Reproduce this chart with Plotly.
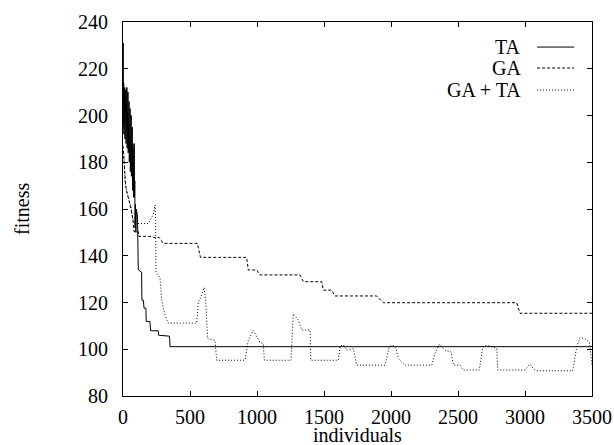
import plotly.graph_objects as go

# ---- data ----
ta_x = [0, 1, 3, 5, 7, 9, 11, 13, 15, 17, 19, 21, 23, 25, 27, 29, 31, 33, 35, 37, 39,
        41, 43, 45, 47, 49, 51, 53, 55, 57, 59, 61, 63, 65, 67, 69, 71, 73, 75, 77, 79,
        81, 84, 86, 88, 90, 93, 96, 100, 108, 114, 139, 141, 152, 157, 171, 173, 201,
        206, 263, 266, 347, 351, 3500]
ta_y = [200, 231, 195, 214, 192, 210, 199, 212, 190, 207, 196, 211, 188, 205, 193, 212,
        186, 203, 191, 210, 184, 200, 188, 206, 180, 198, 185, 203, 176, 196, 182, 200,
        174, 193, 178, 195, 168, 188, 172, 185, 165, 178, 188, 165, 172, 152, 162, 150,
        160, 157, 134, 133, 121, 121, 117.6, 117.6, 111.9, 111.9, 107.9, 107.9, 106,
        105.6, 101.1, 101.1]

ga_x = [0, 5, 10, 20, 30, 45, 60, 75, 82, 114, 118, 220, 228, 270, 300, 555, 578, 923,
        935, 998, 1022, 1321, 1346, 1483, 1495, 1557, 1582, 1893, 1943, 2938, 2963, 3500]
ga_y = [187, 182, 178, 170, 167, 164, 160, 155, 150.3, 150.3, 148.3, 148.3, 147.8,
        147.8, 145.3, 145.3, 139.3, 139.3, 133.9, 133.9, 131.8, 131.8, 128.9, 128.9,
        125.3, 125.3, 122.8, 122.8, 119.9, 119.9, 115.4, 115.4]

gata_x = [0, 8, 15, 25, 40, 55, 70, 80, 90, 189, 226, 239, 243, 246, 276, 289, 313, 338,
          550, 562, 580, 604, 617, 632, 687, 699, 910, 935, 973, 1022, 1047, 1055, 1254,
          1271, 1308, 1334, 1396, 1401, 1607, 1620, 1644, 1669, 1719, 1744, 1955, 1987,
          2013, 2037, 2055, 2105, 2304, 2328, 2361, 2403, 2448, 2465, 2515, 2540, 2659,
          2685, 2714, 2764, 2789, 2796, 3000, 3037, 3062, 3087, 3356, 3386, 3411, 3448,
          3480, 3500]
gata_y = [185, 183, 172, 168, 165, 162, 157, 154, 153.8, 153.8, 157.7, 161.7, 155, 133,
          130.6, 121, 114.7, 111.2, 111.2, 120.3, 122, 126.4, 121, 104.5, 103.8, 95.3,
          95.3, 103.8, 108, 103, 102.4, 95.3, 95.3, 115.2, 112.4, 108.2, 108.2, 95.3, 95.3,
          101.3, 102, 99.6, 100.3, 93.2, 93.2, 101, 101.8, 100.3, 96, 93.2, 93.2, 98.2,
          102.1, 99.6, 98.9, 93.2, 93.2, 91.1, 91.1, 101, 101.7, 101, 100.3, 91.1, 91.1,
          93.6, 91.8, 90.8, 90.8, 101, 105, 104.5, 103.1, 93.5]

series_names = ["TA", "GA", "GA + TA"]
x_ticks = [0, 500, 1000, 1500, 2000, 2500, 3000, 3500]
y_ticks = [80, 100, 120, 140, 160, 180, 200, 220, 240]
x_title = "individuals"
y_title = "fitness"

FONT = "Liberation Serif"
dashes = ["solid", "3px,2px", "1px,2px"]

fig = go.Figure()
for name, xs, ys, d in zip(series_names, [ta_x, ga_x, gata_x], [ta_y, ga_y, gata_y], dashes):
    fig.add_trace(go.Scatter(x=xs, y=ys, mode="lines", name=name,
                             line=dict(color="black", width=1, dash=d),
                             showlegend=False, hoverinfo="skip"))

# gnuplot-style key: right-aligned text followed by the line sample
row_y = [0.933, 0.877, 0.818]
for name, d, yy in zip(series_names, dashes, row_y):
    fig.add_annotation(x=0.853, y=yy, xref="paper", yref="paper", text=name,
                       showarrow=False, xanchor="right", yanchor="middle",
                       font=dict(family=FONT, size=20, color="black"))
    fig.add_shape(type="line", xref="paper", yref="paper", x0=0.883, x1=0.962,
                  y0=yy, y1=yy, line=dict(color="black", width=1, dash=d))

# axis titles
fig.add_annotation(x=0.5, y=0, xref="paper", yref="paper", text=x_title,
                   showarrow=False, xanchor="center", yanchor="middle", yshift=-39,
                   font=dict(family=FONT, size=20, color="black"))
fig.add_annotation(x=0, y=0.5, xref="paper", yref="paper", text=y_title,
                   showarrow=False, xanchor="center", yanchor="middle", xshift=-101,
                   textangle=-90, font=dict(family=FONT, size=20, color="black"))

axis_common = dict(showgrid=False, zeroline=False, showline=True, linecolor="black",
                   linewidth=1, mirror="ticks", ticks="inside", ticklen=5,
                   tickcolor="black", tickwidth=1, automargin=False,
                   tickfont=dict(family=FONT, size=20, color="black"))

fig.update_xaxes(range=[0, 3500], tickvals=x_ticks, ticktext=[str(v) for v in x_ticks],
                 ticklabelstandoff=3, **axis_common)
fig.update_yaxes(range=[80, 240], tickvals=y_ticks, ticktext=[str(v) for v in y_ticks],
                 ticklabelstandoff=10, **axis_common)

fig.update_layout(width=614, height=445, margin=dict(l=123, r=22, t=22, b=49),
                  paper_bgcolor="white", plot_bgcolor="white",
                  font=dict(family=FONT, size=20, color="black"))

fig.write_html("out.html", config={"displayModeBar": False, "staticPlot": True},
               post_script="document.body.style.margin='0';document.body.style.overflow='hidden';")
